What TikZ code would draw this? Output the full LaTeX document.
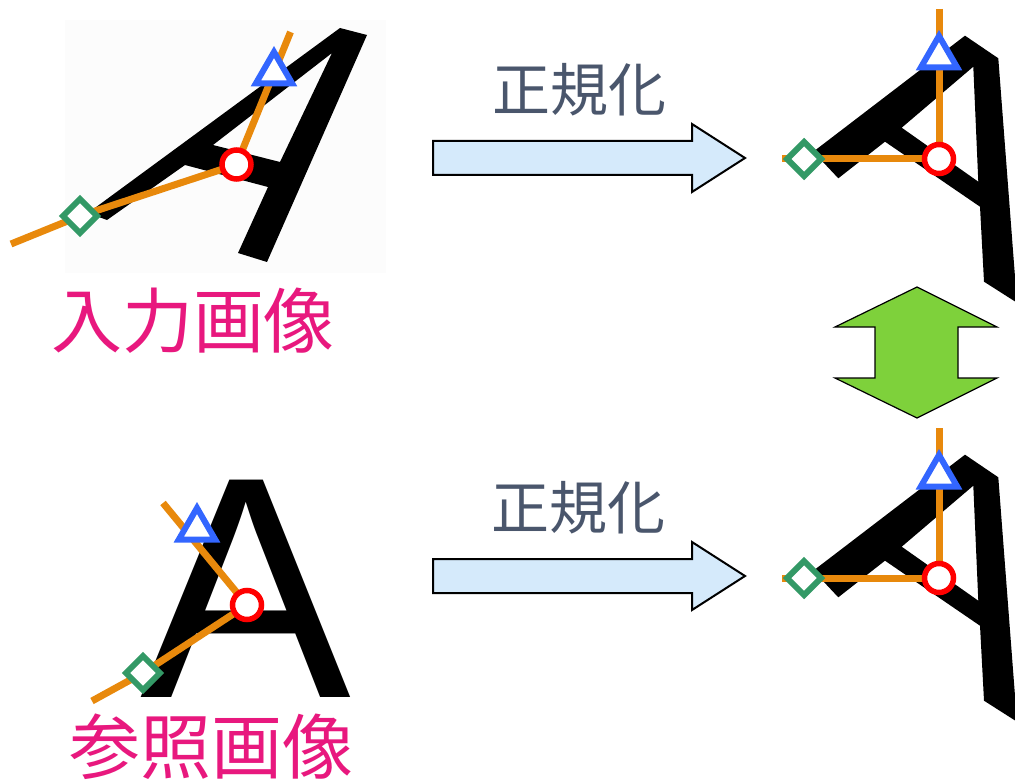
\documentclass[tikz,border=0pt]{standalone}
\usepackage{fontspec}
\setmainfont{Liberation Sans}
\newfontfamily\jpfont{Noto Sans CJK JP}
\usetikzlibrary{shapes.geometric}
\definecolor{lineorange}{HTML}{E8890C}
\definecolor{markblue}{HTML}{3366FF}
\definecolor{markred}{HTML}{FF0000}
\definecolor{markgreen}{HTML}{339966}
\definecolor{labelpink}{HTML}{E8187E}
\definecolor{slatetext}{HTML}{4A566C}
\definecolor{arrowblue}{HTML}{D5EAFB}
\definecolor{arrowgreen}{HTML}{7ED13B}
\tikzset{
  guide/.style={draw=lineorange, line width=7pt},
  trimark/.style={regular polygon, regular polygon sides=3, draw=markblue, fill=white, line width=6pt, inner sep=0pt, outer sep=0pt, minimum size=42pt},
  circmark/.style={circle, draw=markred, fill=white, line width=5.5pt, inner sep=0pt, outer sep=0pt, minimum size=29pt},
  diamark/.style={diamond, draw=markgreen, fill=white, line width=6pt, inner sep=0pt, outer sep=0pt, minimum size=34pt},
  glyph/.style={fill=black, even odd rule},
  blockarrow/.style={draw=black, line width=2pt, fill=arrowblue},
  jplabel/.style={font=\jpfont\fontsize{71}{80}\selectfont, text=labelpink, inner sep=0pt},
  steplabel/.style={font=\jpfont\fontsize{58}{64}\selectfont, text=slatetext, inner sep=0pt},
}
\newcommand{\normglyph}[2]{%
  \begin{scope}[shift={(0,#2)}]
    \fill[glyph] (813.3,151.7) -- (965,35.7) -- (998.3,58.3) -- (1016,290) -- (1030,311) -- (984,281.7) -- (980,206.7) -- (885,141.7) -- (838.3,178.3) -- cycle
      (973.3,66.7) -- (978.3,181.7) -- (901.7,127.7) -- cycle;
    \coordinate (#1top) at (939,9);
    \coordinate (#1left) at (782,159);
    \coordinate (#1c) at (939,159);
    \coordinate (#1t) at (939,57);
    \coordinate (#1d) at (804,159);
    \draw[guide] (#1top) -- (#1c) -- (#1left);
    \node[trimark] (#1tri) at (#1t) {};
    \node[circmark] (#1circ) at (#1c) {};
    \node[diamark] (#1dia) at (#1d) {};
  \end{scope}}
\begin{document}
\begin{tikzpicture}[x=1pt,y=-1pt]
  \useasboundingbox (0,0) rectangle (1015,781);
  \fill[white] (0,0) rectangle (1015,781);
  \clip (0,0) rectangle (1015,781);
  % input image (top left)
  \fill[black!1] (65,20) rectangle (386,273);
  \fill[glyph] (88,213) -- (340,28) -- (367,35) -- (267,262) -- (238,253) -- (268,187) -- (185,165) -- (107,220) -- cycle
    (332,53) -- (280,162) -- (213,145) -- cycle;
  \coordinate (inS) at (11,244);
  \coordinate (inD) at (80,216);
  \coordinate (inC) at (236.5,164.5);
  \coordinate (inT) at (274,73);
  \coordinate (inE) at (290.5,32);
  \draw[guide] (inS) -- (inD) -- (inC) -- (inE);
  \node[trimark] (inTri) at (inT) {};
  \node[circmark] (inCirc) at (inC) {};
  \node[diamark] (inDia) at (inD) {};
  % reference image (bottom left)
  \node[anchor=base west, inner sep=0pt, font=\fontsize{316}{316}\selectfont] (refA) at (140,697) {A};
  \coordinate (refS) at (92,701);
  \coordinate (refD) at (143,673);
  \coordinate (refC) at (247,605);
  \coordinate (refT) at (197,529);
  \coordinate (refE) at (163,503);
  \draw[guide] (refS) -- (refD) -- (refC) -- (refE);
  \node[trimark] (refTri) at (refT) {};
  \node[circmark] (refCirc) at (refC) {};
  \node[diamark] (refDia) at (refD) {};
  % normalized images (right)
  \normglyph{nt}{0}
  \normglyph{nb}{419}
  % labels
  \node[jplabel] (inlabel) at (193,321) {入力画像};
  \node[jplabel] (reflabel) at (211,747) {参照画像};
  \node[steplabel] (stepA) at (579,90) {正規化};
  \node[steplabel] (stepB) at (578,508) {正規化};
  % block arrows
  \draw[blockarrow] (433,141) -- (692,141) -- (692,124) -- (745,158) -- (692,192) -- (692,175) -- (433,175) -- cycle;
  \draw[blockarrow] (433,559) -- (692,559) -- (692,542) -- (745,576) -- (692,610) -- (692,593) -- (433,593) -- cycle;
  % double arrow
  \draw[draw=black, line width=1.2pt, fill=arrowgreen] (917,287) -- (997,327) -- (958,327) -- (958,378) -- (997,378) -- (917,418) -- (835,378) -- (875,378) -- (875,327) -- (835,327) -- cycle;
\end{tikzpicture}
\end{document}
